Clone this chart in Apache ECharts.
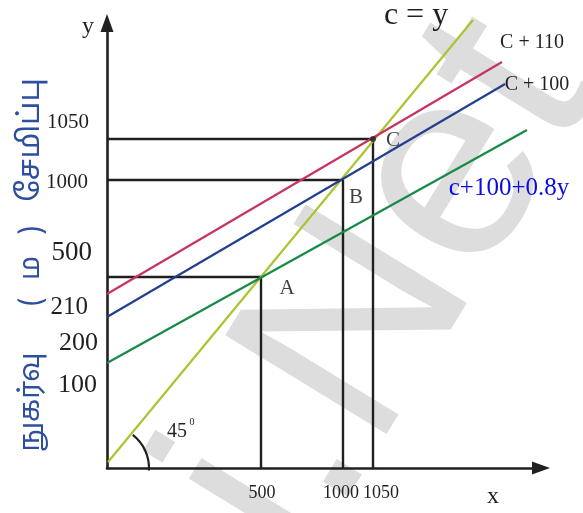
<!DOCTYPE html>
<html><head><meta charset="utf-8">
<script src="https://cdn.jsdelivr.net/npm/echarts@6/dist/echarts.min.js"></script>
<style>html,body{margin:0;padding:0;background:#fff}#c{width:583px;height:513px}</style>
</head><body><div id="c"></div>
<script>
// schematic (not-to-scale) Keynesian cross, units = schematic grid units
const xLabels = ['500', '1000', '1050'];
const xLabelAt = [155, 234, 274];
const yLabels = ['1050', '1000', '500', '210', '200', '100'];
const yLabelAt = [346, 286, 215, 161, 125, 83];
const yLabelSize = [21, 21, 27, 25, 26, 26];
const yLabelPad = [9, 10, 6, 10, 0, 1];
const lineNames = ['c = y', 'C + 110', 'C + 100', 'c+100+0.8y'];
const lineColors = ['#a9c52f', '#c73462', '#23408e', '#178a48'];
const cEqualsY = [[1, 6], [366, 448]];
const cPlus110 = [[0, 174], [395, 406]];
const cPlus100 = [[0, 151], [398, 384]];
const cPlus100Mpc = [[0, 105], [420, 338]];
const eqNames = ['A', 'B', 'C'];
const eqPoints = [[154, 191], [236, 288], [266, 329]];
const eqLabelOffset = [[26, 11], [13, 17], [20, 1]];
const yTitleParts = ['நுகர்வு', '(', 'ம', ')', 'சேமிப்பு'];
const watermark = ['Padasalai.', 'N', 'et'];

const INK = '#231f20';
const SERIF = "'Liberation Serif', 'Times New Roman', serif";
const TAMIL = "'Noto Sans Tamil', 'Lohit Tamil', 'Noto Serif Tamil', 'Latha', sans-serif";
const chart = echarts.init(document.getElementById('c'), null, {renderer: 'canvas'});

const rich = {};
yLabels.forEach((l, i) => {
  rich['s' + i] = {fontSize: yLabelSize[i], fontFamily: SERIF, color: INK, padding: [0, yLabelPad[i], 0, 0]};
});

const lineData = [cEqualsY, cPlus110, cPlus100, cPlus100Mpc];
const series = lineData.map((d, i) => ({
  type: 'line', name: lineNames[i], data: d, symbol: 'none', clip: false, z: 3,
  lineStyle: {color: lineColors[i], width: 2.2}, silent: true
}));
eqPoints.forEach((p) => {
  series.push({
    type: 'line', data: [[0, p[1]], [p[0], p[1]], [p[0], 0]], symbol: 'none', z: 2,
    lineStyle: {color: INK, width: 2.4}, silent: true
  });
});
series.push({
  type: 'scatter', data: eqPoints.map((p, i) => ({
    value: p,
    symbolSize: i === 2 ? 6 : 0,
    label: {show: true, position: 'inside', formatter: eqNames[i], offset: eqLabelOffset[i],
      fontSize: 21, fontFamily: SERIF, color: '#111'}
  })),
  itemStyle: {color: INK}, z: 5, silent: true
});

chart.setOption({
  animation: false,
  backgroundColor: '#fff',
  grid: {left: 107, right: 42, top: 23, bottom: 45},
  xAxis: {
    type: 'value', min: 0, max: 434,
    axisLine: {show: true, lineStyle: {color: INK, width: 2.6}, symbol: ['none', 'triangle'], symbolSize: [13, 18]},
    axisTick: {show: false}, splitLine: {show: false},
    axisLabel: {customValues: xLabelAt, margin: 16, fontSize: 18, fontFamily: SERIF, color: INK,
      formatter: (v) => xLabels[xLabelAt.indexOf(v)]}
  },
  yAxis: {
    type: 'value', min: 0, max: 445,
    axisLine: {show: true, lineStyle: {color: INK, width: 2.6}, symbol: ['none', 'triangle'], symbolSize: [13, 18]},
    axisTick: {show: false}, splitLine: {show: false},
    axisLabel: {customValues: yLabelAt, margin: 9, rich: rich,
      formatter: (v) => { const i = yLabelAt.indexOf(v); return '{s' + i + '|' + yLabels[i] + '}'; }}
  },
  series: series
});

const o = chart.convertToPixel({gridIndex: 0}, [0, 0]);
const ang = Math.atan2(cEqualsY[1][1] - cEqualsY[0][1], cEqualsY[1][0] - cEqualsY[0][0]);
const rot = 58.5 * Math.PI / 180;
const dir = [Math.cos(rot), -Math.sin(rot)];
const nC = [362, 329];
const half = 99;
const wmStyle = {fontSize: 275, fontFamily: "'Liberation Sans', Arial, sans-serif", fill: '#dddddd', verticalAlign: 'middle'};
const endPx = lineData.map(d => chart.convertToPixel({gridIndex: 0}, d[1]));

const titleY = [402, 302, 268, 230, 140];
const titleSize = [28, 28, 28, 28, 30];
const titleEls = yTitleParts.map((t, i) => ({
  type: 'text', z: 10, x: 33, y: titleY[i], rotation: Math.PI / 2, silent: true,
  style: {text: t, fontSize: titleSize[i], fontFamily: TAMIL, fill: '#2e4f9f', align: 'center', verticalAlign: 'middle'}
}));

chart.setOption({
  graphic: [
    {type: 'text', z: -1, x: nC[0] - half * dir[0], y: nC[1] - half * dir[1], rotation: rot, silent: true,
      style: Object.assign({text: watermark[0], align: 'right'}, wmStyle)},
    {type: 'text', z: -1, x: nC[0], y: nC[1], rotation: rot, silent: true,
      style: Object.assign({text: watermark[1], align: 'center'}, wmStyle)},
    {type: 'text', z: -1, x: nC[0] + half * dir[0], y: nC[1] + half * dir[1], rotation: rot, silent: true,
      style: Object.assign({text: watermark[2], align: 'left'}, wmStyle)},
    {type: 'arc', z: 10, silent: true,
      shape: {cx: o[0], cy: o[1], r: 42, startAngle: -ang - 0.03, endAngle: 0.06, clockwise: true},
      style: {stroke: INK, lineWidth: 2.2, fill: null}},
    {type: 'text', z: 10, x: 177, y: 432, silent: true,
      style: {text: '45', fontSize: 20, fontFamily: SERIF, fill: INK, align: 'center', verticalAlign: 'middle'}},
    {type: 'text', z: 10, x: 192, y: 422, silent: true,
      style: {text: '0', fontSize: 10, fontFamily: SERIF, fill: INK, align: 'center', verticalAlign: 'middle'}},
    {type: 'text', z: 10, x: 416, y: 16, silent: true,
      style: {text: lineNames[0], fontSize: 32, fontFamily: SERIF, fill: INK, align: 'center', verticalAlign: 'middle'}},
    {type: 'text', z: 10, x: endPx[1][0] + 30, y: endPx[1][1] - 19, silent: true,
      style: {text: lineNames[1], fontSize: 20, fontFamily: SERIF, fill: INK, align: 'center', verticalAlign: 'middle'}},
    {type: 'text', z: 10, x: endPx[2][0] + 32, y: endPx[2][1] + 1, silent: true,
      style: {text: lineNames[2], fontSize: 20, fontFamily: SERIF, fill: INK, align: 'center', verticalAlign: 'middle'}},
    {type: 'text', z: 10, x: endPx[3][0] - 18, y: endPx[3][1] + 58, silent: true,
      style: {text: lineNames[3], fontSize: 25, fontFamily: SERIF, fill: '#0a0ae6', align: 'center', verticalAlign: 'middle'}},
    {type: 'text', z: 10, x: 493, y: 497, silent: true,
      style: {text: 'x', fontSize: 24, fontFamily: SERIF, fill: INK, align: 'center', verticalAlign: 'middle'}},
    {type: 'text', z: 10, x: 88, y: 27, silent: true,
      style: {text: 'y', fontSize: 24, fontFamily: SERIF, fill: INK, align: 'center', verticalAlign: 'middle'}}
  ].concat(titleEls)
});
</script></body></html>
